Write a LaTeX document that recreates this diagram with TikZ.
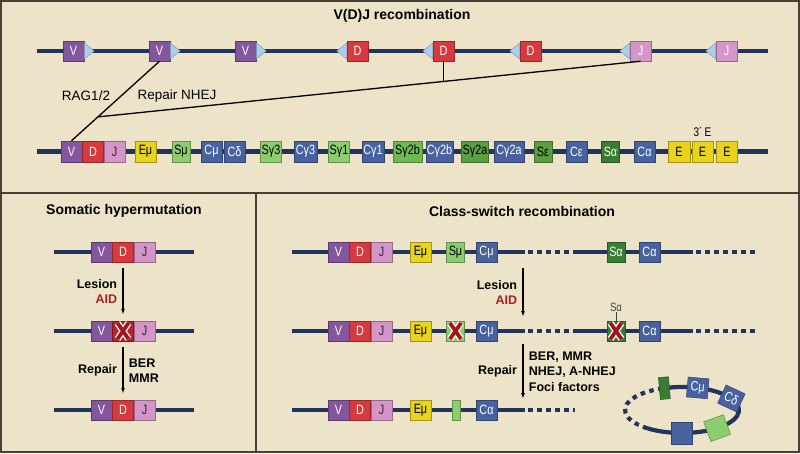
\documentclass[tikz,border=0pt]{standalone}
\usepackage{fontspec}
\setmainfont{Liberation Sans}
\newfontfamily\segfamily[FakeStretch=0.8]{Liberation Sans}
\usetikzlibrary{positioning,calc,arrows.meta}

\definecolor{bgbeige}{RGB}{237,227,200}
\definecolor{framegray}{RGB}{72,64,56}
\definecolor{dna}{RGB}{32,52,92}
\definecolor{vpurple}{RGB}{132,86,158}
\definecolor{dred}{RGB}{214,58,62}
\definecolor{dlesion}{RGB}{185,35,45}
\definecolor{jpink}{RGB}{212,150,200}
\definecolor{jtext}{RGB}{60,30,60}
\definecolor{eyellow}{RGB}{232,212,30}
\definecolor{sgreenA}{RGB}{140,205,110}
\definecolor{sgreenB}{RGB}{112,186,82}
\definecolor{sgreenC}{RGB}{88,160,66}
\definecolor{sgreenD}{RGB}{56,125,50}
\definecolor{cblue}{RGB}{72,98,160}
\definecolor{rssblue}{RGB}{172,206,238}
\definecolor{aidred}{RGB}{170,30,35}
\definecolor{xred}{RGB}{165,20,30}

\newcommand{\segfont}{\segfamily\fontsize{13.5}{15}\selectfont}
% red lesion cross on a segment
\newcommand{\lesionx}[1]{%
  \draw[white, line width=6.5pt] ($(#1)+(-5.5,-8)$) -- ($(#1)+(5.5,8)$) ($(#1)+(-5.5,8)$) -- ($(#1)+(5.5,-8)$);
  \draw[xred, line width=3.8pt] ($(#1)+(-5.5,-8)$) -- ($(#1)+(5.5,8)$) ($(#1)+(-5.5,8)$) -- ($(#1)+(5.5,-8)$);}

\begin{document}
\begin{tikzpicture}[
    x=1pt, y=1pt,
    seg/.style={rectangle, draw=#1!70!black, fill=#1, line width=0.5pt, minimum width=21, minimum height=20, inner sep=0pt, font=\segfont},
    vseg/.style={seg=vpurple, text=white},
    dseg/.style={seg=dred, text=white},
    jseg/.style={seg=jpink, text=jtext},
    eseg/.style={seg=eyellow, text=black},
    sseg/.style={seg=#1, text=black},
    sseg/.default=sgreenA,
    cseg/.style={seg=cblue, text=white},
    track/.style={dna, line width=4.2pt},
    gapline/.style={track, dash pattern=on 4.5pt off 4.5pt, dash phase=6pt},
    rss/.style={fill=rssblue, draw=rssblue!70!black, line width=0.4pt},
    link/.style={black, line width=1.3pt},
    stepline/.style={black, line width=1.2pt, -{Latex[length=6pt,width=4pt]}, shorten <=6pt, shorten >=6pt},
    title/.style={font=\bfseries\fontsize{14}{16}\selectfont},
    lbl/.style={font=\bfseries\fontsize{12.5}{15.5}\selectfont},
    note/.style={font=\fontsize{13.5}{16}\selectfont}
]
\useasboundingbox (0,0) rectangle (800,-453);

% Background and panels
\fill[bgbeige] (0,0) rectangle (800,-453);
\draw[framegray, line width=2pt] (1,-1) rectangle (799,-452);
\draw[framegray, line width=2pt] (0,-193) -- (800,-193);
\draw[framegray, line width=2pt] (256,-193) -- (256,-453);

% V(D)J recombination
\node[title] (vdjtitle) at (402,-16) {V(D)J recombination};

% Germline locus
\coordinate (gl) at (37,-51);
\coordinate (gr) at (768,-51);
\draw[track] (gl) -- (gr);
\node[vseg] (v1) at (73.5,-51) {V};
\node[vseg] (v2) at (159.5,-51) {V};
\node[vseg] (v3) at (245.5,-51) {V};
\node[dseg] (d1) at (357.5,-51) {D};
\node[dseg] (d2) at (443.5,-51) {D};
\node[dseg] (d3) at (530.5,-51) {D};
\node[jseg, text=white] (j1) at (640.5,-51) {J};
\node[jseg, text=white] (j2) at (726.5,-51) {J};
\filldraw[rss] (v1.east) ++(0,8) -- ++(10,-8) -- ++(-10,-8) -- cycle;
\filldraw[rss] (v2.east) ++(0,8) -- ++(10,-8) -- ++(-10,-8) -- cycle;
\filldraw[rss] (v3.east) ++(0,8) -- ++(10,-8) -- ++(-10,-8) -- cycle;
\filldraw[rss] (d1.west) ++(0,8) -- ++(-10,-8) -- ++(10,-8) -- cycle;
\filldraw[rss] (d2.west) ++(0,8) -- ++(-10,-8) -- ++(10,-8) -- cycle;
\filldraw[rss] (d3.west) ++(0,8) -- ++(-10,-8) -- ++(10,-8) -- cycle;
\filldraw[rss] (j1.west) ++(0,8) -- ++(-10,-8) -- ++(10,-8) -- cycle;
\filldraw[rss] (j2.west) ++(0,8) -- ++(-10,-8) -- ++(10,-8) -- cycle;

% Rearranged locus
\coordinate (rl) at (37,-151.5);
\coordinate (rr) at (768,-151.5);
\draw[track] (rl) -- (rr);
\node[vseg, minimum height=21] (rv) at (71.5,-151.5) {V};
\node[dseg, minimum height=21, right=0pt of rv] (rd) {D};
\node[jseg, minimum height=21, right=0pt of rd] (rj) {J};
\node[eseg, minimum height=21] (remu) at (145.5,-151.5) {Eμ};
\node[sseg, minimum height=21, minimum width=18] (rsmu) at (181,-151.5) {Sμ};
\node[cseg, minimum height=21] (rcmu) at (211.5,-151.5) {Cμ};
\node[cseg, minimum height=21] (rcdelta) at (234.5,-151.5) {Cδ};
\node[sseg, minimum height=21] (rsg3) at (271,-151.5) {Sγ3};
\node[cseg, minimum height=21, minimum width=23] (rcg3) at (305.5,-151.5) {Cγ3};
\node[sseg, minimum height=21] (rsg1) at (339,-151.5) {Sγ1};
\node[cseg, minimum height=21, minimum width=22] (rcg1) at (373,-151.5) {Cγ1};
\node[sseg=sgreenB, minimum height=21, minimum width=29] (rsg2b) at (407.5,-151.5) {Sγ2b};
\node[cseg, minimum height=21, minimum width=27] (rcg2b) at (439.5,-151.5) {Cγ2b};
\node[sseg=sgreenC, minimum height=21, minimum width=27] (rsg2a) at (475,-151.5) {Sγ2a};
\node[cseg, minimum height=21, minimum width=30] (rcg2a) at (509,-151.5) {Cγ2a};
\node[sseg=sgreenC, minimum height=21, minimum width=18] (rseps) at (543,-151.5) {Sε};
\node[cseg, minimum height=21] (rceps) at (576.5,-151.5) {Cε};
\node[sseg=sgreenD, text=white, minimum height=21, minimum width=18] (rsa) at (610.5,-151.5) {Sα};
\node[cseg, minimum height=21] (rca) at (644.5,-151.5) {Cα};
\node[eseg, minimum height=21, minimum width=22] (re1) at (679,-151.5) {E};
\node[eseg, minimum height=21] (re2) at (702.5,-151.5) {E};
\node[eseg, minimum height=21] (re3) at (727,-151.5) {E};
\node[font=\segfamily\fontsize{12.5}{13}\selectfont, inner sep=0pt, above=4pt of re2] (threee) {3´\,E};

% Joining lines
\coordinate (join) at ($(v2.south)!0.7!(rv.north)$);
\coordinate (dj) at ($(j1.south)!0.363!(join)$);
\draw[link] (v2.south) -- (rv.north);
\draw[link] (j1.south) -- (join);
\draw[link] (d2.south) -- (d2.south |- dj);
\node[note] (rag) at (86,-96) {RAG1/2};
\node[note] (nhej) at (177,-96) {Repair NHEJ};

% Somatic hypermutation
\node[title] (shmtitle) at (124,-211) {Somatic hypermutation};
\coordinate (s1l) at (54,-252);
\coordinate (s1r) at (194,-252);
\coordinate (s2l) at (54,-331);
\coordinate (s2r) at (194,-331);
\coordinate (s3l) at (54,-410);
\coordinate (s3r) at (194,-410);
\draw[track] (s1l) -- (s1r);
\draw[track] (s2l) -- (s2r);
\draw[track] (s3l) -- (s3r);
\node[vseg] (sv1) at (101.5,-252) {V};
\node[dseg, right=0pt of sv1] (sd1) {D};
\node[jseg, right=0pt of sd1] (sj1) {J};
\node[vseg] (sv2) at (101.5,-331) {V};
\node[seg=dlesion, right=0pt of sv2] (sx) {};
\node[jseg, right=0pt of sx] (sj2) {J};
\node[vseg] (sv3) at (101.5,-410) {V};
\node[dseg, right=0pt of sv3] (sd3) {D};
\node[jseg, right=0pt of sd3] (sj3) {J};
\lesionx{sx}
\draw[stepline] (sd1.south) -- node[midway, left=2pt, lbl, align=right] {Lesion\\\textcolor{aidred}{AID}} (sx.north);
\draw[stepline] (sx.south) -- node[midway, left=2pt, lbl, align=right] {Repair} node[midway, right=2pt, lbl, align=left] {BER\\MMR} (sd3.north);

% Class-switch recombination
\node[title] (csrtitle) at (522,-211) {Class-switch recombination};
\coordinate (c1a) at (292,-252);
\coordinate (c1b) at (525,-252);
\coordinate (c1c) at (575,-252);
\coordinate (c1d) at (693,-252);
\coordinate (c1e) at (755,-252);
\draw[track] (c1a) -- (c1b);
\draw[gapline] (c1b) -- (c1c);
\draw[track] (c1c) -- (c1d);
\draw[gapline] (c1d) -- (c1e);
\coordinate (c2a) at (292,-331);
\coordinate (c2b) at (525,-331);
\coordinate (c2c) at (575,-331);
\coordinate (c2d) at (693,-331);
\coordinate (c2e) at (755,-331);
\draw[track] (c2a) -- (c2b);
\draw[gapline] (c2b) -- (c2c);
\draw[track] (c2c) -- (c2d);
\draw[gapline] (c2d) -- (c2e);
\coordinate (c3a) at (292,-410);
\coordinate (c3b) at (525,-410);
\coordinate (c3c) at (575,-410);
\draw[track] (c3a) -- (c3b);
\draw[gapline] (c3b) -- (c3c);

\node[vseg] (cv1) at (338.5,-252) {V};
\node[dseg, right=0pt of cv1] (cd1) {D};
\node[jseg, right=0pt of cd1] (cj1) {J};
\node[eseg] (ce1) at (420.5,-252) {Eμ};
\node[sseg, minimum width=18] (cs1) at (455.5,-252) {Sμ};
\node[cseg] (cc1) at (486.5,-252) {Cμ};
\node[sseg=sgreenD, text=white, minimum width=18] (csa1) at (616,-252) {Sα};
\node[cseg] (cca1) at (649.5,-252) {Cα};

\node[vseg] (cv2) at (338.5,-331) {V};
\node[dseg, right=0pt of cv2] (cd2) {D};
\node[jseg, right=0pt of cd2] (cj2) {J};
\node[eseg] (ce2) at (420.5,-331) {Eμ};
\node[sseg, minimum width=18] (cs2) at (455.5,-331) {};
\node[cseg] (cc2) at (486.5,-331) {Cμ};
\node[sseg=sgreenD, minimum width=18] (csa2) at (616,-331) {};
\node[cseg] (cca2) at (649.5,-331) {Cα};
\node[font=\segfamily\fontsize{12}{13}\selectfont, text=black!75, inner sep=1pt] (salbl) at (616,-307) {Sα};
\draw[black!75, line width=0.6pt] (salbl.south) -- (csa2.north);
\lesionx{cs2}
\lesionx{csa2}

\node[vseg] (cv3) at (338.5,-410) {V};
\node[dseg, right=0pt of cv3] (cd3) {D};
\node[jseg, right=0pt of cd3] (cj3) {J};
\node[eseg] (ce3) at (420.5,-410) {Eμ};
\node[sseg, minimum width=8] (cs3) at (456,-410) {};
\node[cseg] (cc3) at (486.5,-410) {Cα};

% Steps
\coordinate (ca1) at (523,-262);
\coordinate (ca2) at (523,-323);
\coordinate (ca3) at (523,-338);
\coordinate (ca4) at (523,-405);
\draw[stepline] (ca1) -- node[midway, left=2pt, lbl, align=right] {Lesion\\\textcolor{aidred}{AID}} (ca2);
\draw[stepline] (ca3) -- node[midway, left=2pt, lbl, align=right] {Repair} node[midway, right=2pt, lbl, align=left] {BER, MMR\\NHEJ, A-NHEJ\\Foci factors} (ca4);

% Excised circle
\coordinate (ring) at (682,-410);
\draw[track] (ring) ++(232:57pt and 23pt) arc[start angle=232, end angle=470, x radius=57pt, y radius=23pt];
\draw[track, dash pattern=on 4.5pt off 4.5pt] (ring) ++(110:57pt and 23pt) arc[start angle=110, end angle=232, x radius=57pt, y radius=23pt];
\node[sseg=sgreenD, minimum width=10, minimum height=22, rotate=5] (osg) at ($(ring)+(108:57pt and 23pt)$) {};
\node[cseg, rotate=-5] (ocmu) at ($(ring)+(74:57pt and 23pt)$) {Cμ};
\node[cseg, rotate=-25] (ocdelta) at ($(ring)+(30:57pt and 23pt)$) {Cδ};
\node[sseg, minimum height=21, rotate=20] (osmu) at ($(ring)+(-52:57pt and 23pt)$) {};
\node[cseg, minimum height=22] (oc) at ($(ring)+(-90:57pt and 23pt)$) {};

\end{tikzpicture}
\end{document}
